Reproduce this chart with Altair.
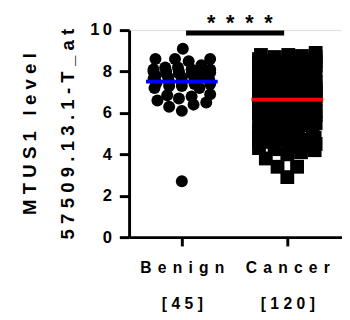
import json
import altair as alt
import pandas as pd

# ---------------- data ----------------
groups = ["Benign", "Cancer"]
group_counts = ["[45]", "[120]"]
benign = [2.7,
          6.1, 6.3, 6.4, 6.5, 6.6, 6.7, 6.8, 6.85, 6.9,
          7.2, 7.2, 7.3, 7.3, 7.4, 7.4, 7.45, 7.5, 7.5, 7.6, 7.6, 7.65, 7.7, 7.7,
          7.8, 7.8, 7.9, 7.9, 7.95, 8.0, 8.0, 8.1, 8.1,
          7.9, 8.0, 8.0, 8.1, 8.2, 8.2, 8.3, 8.5, 8.6, 8.6, 8.6, 9.1]
cancer = [8.9, 8.8, 8.8, 8.7, 8.7, 8.6,
          8.5, 8.5, 8.4, 8.4, 8.3, 8.3, 8.2, 8.2, 8.1, 8.1,
          8.0, 8.0, 7.9, 7.9, 7.8, 7.8, 7.7, 7.7, 7.6, 7.6, 7.5, 7.5,
          7.4, 7.4, 7.3, 7.3, 7.2, 7.2, 7.1, 7.1, 7.0, 7.0, 6.95, 6.9,
          6.85, 6.8, 6.8, 6.75, 6.7, 6.7, 6.65, 6.6, 6.6, 6.55, 6.5, 6.5, 6.45, 6.4,
          6.3, 6.3, 6.2, 6.2, 6.1, 6.1, 6.0, 6.0, 5.9, 5.9, 5.8,
          5.7, 5.6, 5.6, 5.5, 5.5, 5.4, 5.3, 5.2,
          5.1, 5.0, 5.0, 4.9, 4.9, 4.8, 4.8, 4.7, 4.7, 4.6, 4.6,
          4.5, 4.4, 4.4, 4.3, 4.2, 4.1, 4.0,
          3.8, 3.4, 3.4, 2.9,
          8.75, 8.65, 8.55, 8.45, 8.35, 8.25, 8.15, 8.05,
          7.95, 7.85, 7.75, 7.65, 7.55, 7.45, 7.35, 7.25, 7.15, 7.05,
          6.9, 6.6, 6.3, 6.0, 5.45, 4.85, 4.25]
y_ticks = [0, 2, 4, 6, 8, 10]
y_title = ["MTUS1 level", "57509.13.1-T_at"]
sig_label = "****"

# ---------------- layout helpers ----------------
W, H = 218, 212
PX_X = 108.0
X_DOMAIN = [0.5, 0.5 + W / PX_X]
PX_Y = H / 10.0


def swarm(vals, d, half):
    placed = []
    offs = [0.0] * len(vals)
    order = sorted(range(len(vals)), key=lambda i: vals[i])
    for i in order:
        y = vals[i] * PX_Y
        best = None
        for c in range(-half, half + 1):
            pen = 0.0
            for (px, py) in placed:
                dy = abs(py - y)
                if dy >= d:
                    continue
                dist = ((px - c) ** 2 + dy ** 2) ** 0.5
                if dist < d:
                    pen += d - dist
            score = pen + 0.01 * abs(c)
            if best is None or score < best[0]:
                best = (score, c)
        offs[i] = best[1] / PX_X
        placed.append((best[1], y))
    return offs


def spaced(s, sp):
    return sp.join(list(s))


rows = []
for gi, (g, vals, d) in enumerate([(groups[0], benign, 13), (groups[1], cancer, 14)]):
    offs = swarm(vals, d, 29)
    for v, o in zip(vals, offs):
        rows.append({"group": g, "gi": gi + 1, "value": v, "x": gi + 1 + o})
df = pd.DataFrame(rows)

THIN = "\u2009"
HAIR = "\u200a"
EN = "\u2002"
lab1 = [spaced(groups[0], THIN + THIN), spaced(group_counts[0], THIN + HAIR)]
lab2 = [spaced(groups[1], THIN + THIN), spaced(group_counts[1], THIN + HAIR)]
label_expr = f"datum.value == 1 ? {json.dumps(lab1, ensure_ascii=False)} : {json.dumps(lab2, ensure_ascii=False)}"
ytitle = [spaced(y_title[0], THIN + HAIR), spaced(y_title[1], THIN + HAIR)]

FONT = "Liberation Sans"

xscale = alt.Scale(domain=X_DOMAIN, nice=False, zero=False)
yscale = alt.Scale(domain=[0, 10], nice=False)

xaxis = alt.Axis(values=[1, 2], labelExpr=label_expr, title=None, grid=False,
                 domainColor="black", domainWidth=3, tickColor="black", tickWidth=3,
                 tickSize=9, labelFont=FONT, labelFontSize=16, labelFontWeight="bold",
                 labelColor="black", labelPadding=14, labelLineHeight=37,
                 labelBaseline="top")
yaxis = alt.Axis(values=y_ticks, title=ytitle, grid=False,
                 labelExpr=f"datum.value == 10 ? '1{THIN}0' : datum.label",
                 domainColor="black", domainWidth=3, tickColor="black", tickWidth=3,
                 tickSize=10, labelFont=FONT, labelFontSize=17, labelFontWeight="bold",
                 labelColor="black", labelPadding=8, titleFont=FONT, titleFontSize=19,
                 titleFontWeight="bold", titleColor="black", titleLineHeight=39,
                 titlePadding=13)

base = alt.Chart(df)

pts_b = base.transform_filter("datum.group == 'Benign'").mark_circle(
    size=150, color="black", opacity=1).encode(
    x=alt.X("x:Q", scale=xscale, axis=xaxis),
    y=alt.Y("value:Q", scale=yscale, axis=yaxis))

pts_c = base.transform_filter("datum.group == 'Cancer'").mark_square(
    size=200, color="black", opacity=1).encode(
    x=alt.X("x:Q", scale=xscale),
    y=alt.Y("value:Q", scale=yscale))

means = base.transform_aggregate(
    mean="mean(value)", groupby=["group", "gi"]).transform_calculate(
    x1="datum.gi - 0.34", x2="datum.gi + 0.34").mark_rule(strokeWidth=4).encode(
    x=alt.X("x1:Q", scale=xscale), x2="x2:Q",
    y=alt.Y("mean:Q", scale=yscale),
    color=alt.Color("group:N", scale=alt.Scale(domain=groups, range=["#0000ff", "#ff0000"]),
                    legend=None))

sig_df = pd.DataFrame({"x1": [1.04], "x2": [1.97], "y": [9.86], "xm": [1.55],
                       "t": [spaced(sig_label, EN)]})
sig_bar = alt.Chart(sig_df).mark_rule(strokeWidth=5, color="black", clip=False).encode(
    x=alt.X("x1:Q", scale=xscale), x2="x2:Q", y=alt.Y("y:Q", scale=yscale))
sig_txt = alt.Chart(sig_df).mark_text(
    font=FONT, fontSize=22, fontWeight="bold", color="black", dy=-10,
    baseline="middle", clip=False).encode(
    x=alt.X("xm:Q", scale=xscale), y=alt.Y("y:Q", scale=yscale),
    text=alt.Text("t:N"))

chart = alt.layer(pts_b, pts_c, means, sig_bar, sig_txt).properties(
    width=W, height=H,
    autosize=alt.AutoSizeParams(type="none"),
    padding={"left": 124, "top": 19, "right": 0, "bottom": 73}
).configure_view(stroke=None).configure(background="white")

chart.save("out.html", embed_options={"renderer": "svg", "actions": False})
